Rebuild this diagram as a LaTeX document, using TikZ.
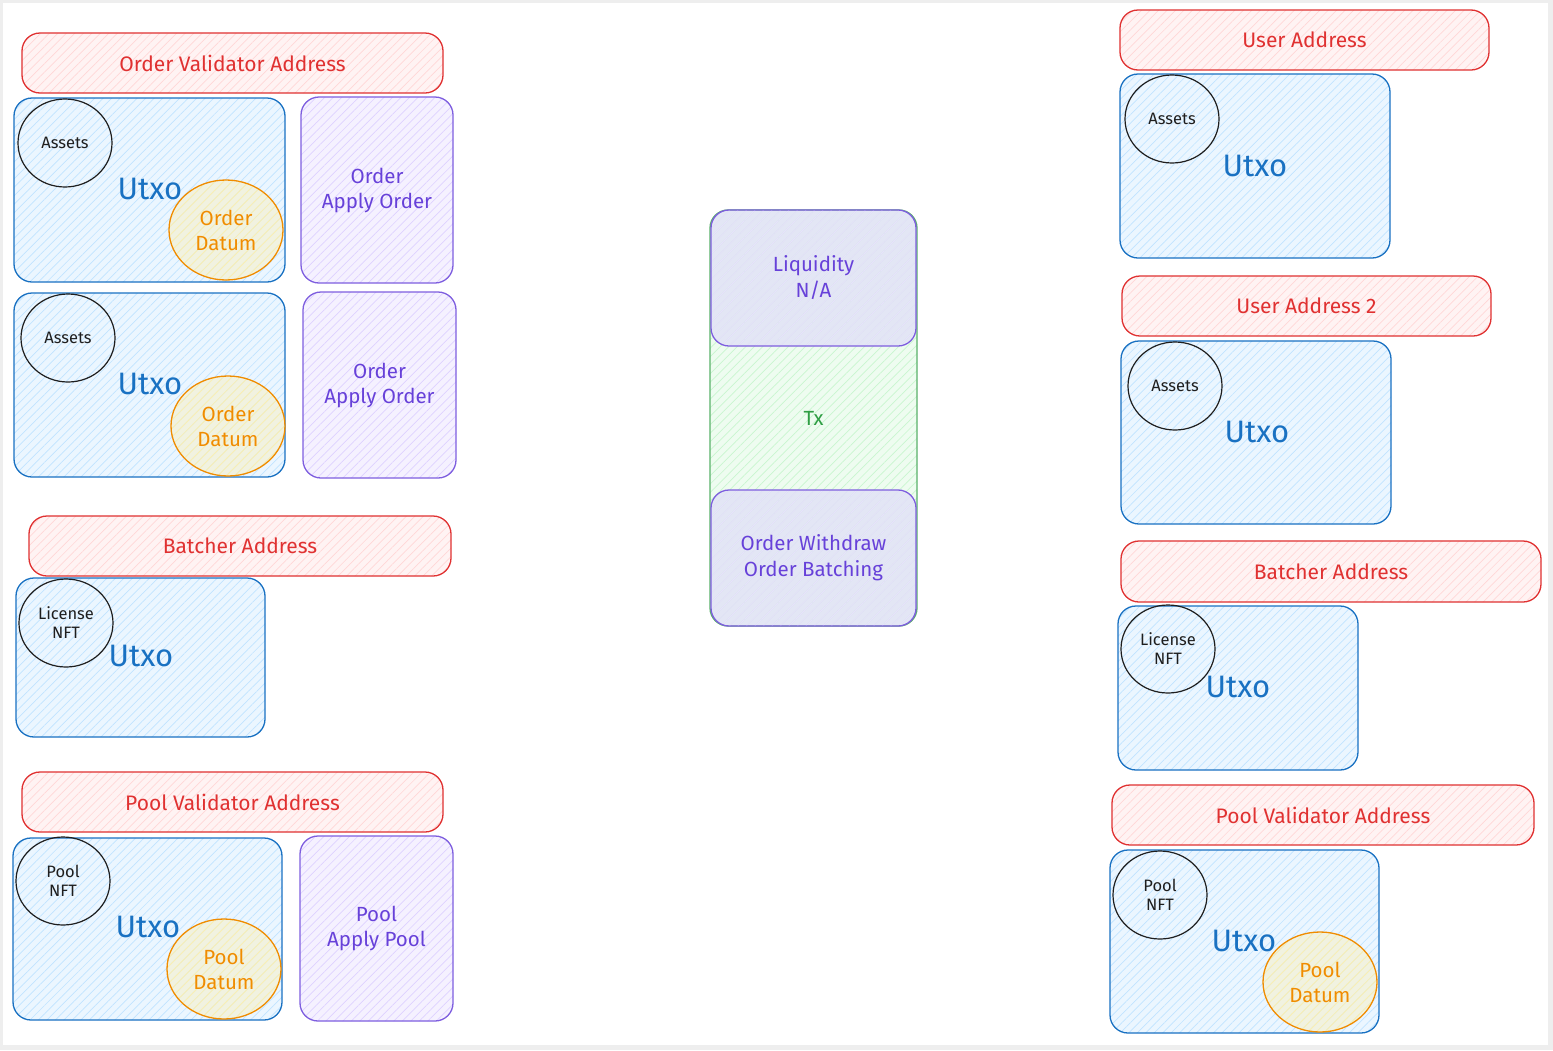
\documentclass[tikz,border=0pt]{standalone}
\usepackage{fontspec}
\setmainfont{Fira Sans}
\usetikzlibrary{patterns.meta,shapes.geometric}

\definecolor{redline}{HTML}{E03131}
\definecolor{redfill}{HTML}{FFC9C9}
\definecolor{blueline}{HTML}{1971C2}
\definecolor{bluefill}{HTML}{A5D8FF}
\definecolor{purpline}{HTML}{6741D9}
\definecolor{purpfill}{HTML}{D0BFFF}
\definecolor{orangeline}{HTML}{F08C00}
\definecolor{yellowfill}{HTML}{FFEC99}
\definecolor{greenline}{HTML}{2F9E44}
\definecolor{greenfill}{HTML}{B2F2BB}
\definecolor{inkline}{HTML}{1E1E1E}
\definecolor{framegray}{HTML}{EEEEEE}

\tikzset{
  hatch/.style 2 args={preaction={fill=#1!22}, pattern={Lines[angle=45,distance=6pt,line width=0.7pt]}, pattern color=#2},
  basebox/.style={draw, line width=1.3pt, rounded corners=18pt, inner sep=0pt},
  addrbox/.style={basebox, draw=redline, hatch={redfill}{redfill!75},
    text=redline, font=\fontsize{21}{24}\selectfont},
  utxobox/.style={basebox, draw=blueline, hatch={bluefill}{bluefill!70}},
  redeembox/.style={basebox, draw=purpline!85, hatch={purpfill}{purpfill!70},
    text=purpline, align=center, font=\fontsize{20.5}{25}\selectfont},
  txbox/.style={basebox, draw=greenline!80, hatch={greenfill}{greenfill!70},
    text=greenline, font=\fontsize{20.5}{22}\selectfont},
  txpart/.style={basebox, draw=purpline!85,
    preaction={fill=purpfill, fill opacity=0.35},
    pattern={Lines[angle=45,distance=6pt,line width=0.7pt]}, pattern color=purpfill!45,
    text=purpline, align=center, font=\fontsize{20.5}{26}\selectfont},
  utxolabel/.style={text=blueline, font=\fontsize{31}{33}\selectfont},
  tokencircle/.style={ellipse, draw=inkline, line width=1.2pt, inner sep=0pt,
    minimum width=94pt, minimum height=88pt, align=center,
    font=\fontsize{16.5}{19}\selectfont, text=inkline},
  datumcircle/.style={ellipse, draw=orangeline, line width=1.3pt, inner sep=0pt,
    minimum width=114pt, minimum height=100pt, align=center,
    preaction={fill=yellowfill, fill opacity=0.3},
    pattern={Lines[angle=45,distance=6pt,line width=0.7pt]}, pattern color=yellowfill!80,
    text=orangeline, font=\fontsize{20.5}{25}\selectfont},
}

\begin{document}
\begin{tikzpicture}[x=1pt,y=-1pt]
  % page with a light frame
  \fill[framegray] (0,0) rectangle (1553,1050);
  \fill[white] (3,3) rectangle (1548,1045);
  \useasboundingbox (0,0) rectangle (1553,1050);

  % ---------------- left column: inputs ----------------
  \node[addrbox, minimum width=421pt, minimum height=60pt] (ova) at (232.5,63) {Order Validator Address};

  \node[utxobox, minimum width=271pt, minimum height=184pt] (u1) at (149.5,190) {};
  \node[utxolabel] (u1l) at (150,189) {Utxo};
  \node[tokencircle] (u1a) at (65,143) {Assets};
  \node[datumcircle] (u1d) at (226,230) {Order\\Datum};
  \node[redeembox, minimum width=152pt, minimum height=186pt] (r1) at (377,190) {Order\\Apply Order};

  \node[utxobox, minimum width=271pt, minimum height=184pt] (u2) at (149.5,385) {};
  \node[utxolabel] (u2l) at (150,384) {Utxo};
  \node[tokencircle] (u2a) at (68,338) {Assets};
  \node[datumcircle] (u2d) at (228,426) {Order\\Datum};
  \node[redeembox, minimum width=153pt, minimum height=186pt] (r2) at (379.5,385) {Order\\Apply Order};

  \node[addrbox, minimum width=422pt, minimum height=60pt] (ba) at (240,546) {Batcher Address};
  \node[utxobox, minimum width=249pt, minimum height=159pt] (u3) at (140.5,657.5) {};
  \node[utxolabel] (u3l) at (141,656) {Utxo};
  \node[tokencircle] (u3a) at (66,623) {License\\NFT};

  \node[addrbox, minimum width=421pt, minimum height=60pt] (pva) at (232.5,802) {Pool Validator Address};
  \node[utxobox, minimum width=269pt, minimum height=182pt] (u4) at (147.5,929) {};
  \node[utxolabel] (u4l) at (148,927) {Utxo};
  \node[tokencircle] (u4a) at (63,881) {Pool\\NFT};
  \node[datumcircle] (u4d) at (224,969) {Pool\\Datum};
  \node[redeembox, minimum width=153pt, minimum height=185pt] (r4) at (376.5,928.5) {Pool\\Apply Pool};

  % ---------------- centre: transaction ----------------
  \node[txbox, minimum width=207pt, minimum height=416pt] (tx) at (813.5,418) {Tx};
  \node[txpart, minimum width=205pt, minimum height=136pt] (tin) at (813.5,278) {Liquidity\\N/A};
  \node[txpart, minimum width=205pt, minimum height=136pt] (tout) at (813.5,558) {Order Withdraw\\Order Batching};

  % ---------------- right column: outputs ----------------
  \node[addrbox, minimum width=369pt, minimum height=60pt] (ua) at (1304.5,40) {User Address};
  \node[utxobox, minimum width=270pt, minimum height=184pt] (v1) at (1255,166) {};
  \node[utxolabel] (v1l) at (1255,166) {Utxo};
  \node[tokencircle] (v1a) at (1172,119) {Assets};

  \node[addrbox, minimum width=369pt, minimum height=60pt] (ub) at (1306.5,306) {User Address 2};
  \node[utxobox, minimum width=270pt, minimum height=183pt] (v2) at (1256,432.5) {};
  \node[utxolabel] (v2l) at (1257,432) {Utxo};
  \node[tokencircle] (v2a) at (1175,386) {Assets};

  \node[addrbox, minimum width=420pt, minimum height=61pt] (bb) at (1331,571.5) {Batcher Address};
  \node[utxobox, minimum width=240pt, minimum height=164pt] (v3) at (1238,688) {};
  \node[utxolabel] (v3l) at (1238,687) {Utxo};
  \node[tokencircle] (v3a) at (1168,649) {License\\NFT};

  \node[addrbox, minimum width=422pt, minimum height=60pt] (pvb) at (1323,815) {Pool Validator Address};
  \node[utxobox, minimum width=269pt, minimum height=183pt] (v4) at (1244.5,941.5) {};
  \node[utxolabel] (v4l) at (1244,941) {Utxo};
  \node[tokencircle] (v4a) at (1160,895) {Pool\\NFT};
  \node[datumcircle] (v4d) at (1320,982) {Pool\\Datum};
\end{tikzpicture}
\end{document}
